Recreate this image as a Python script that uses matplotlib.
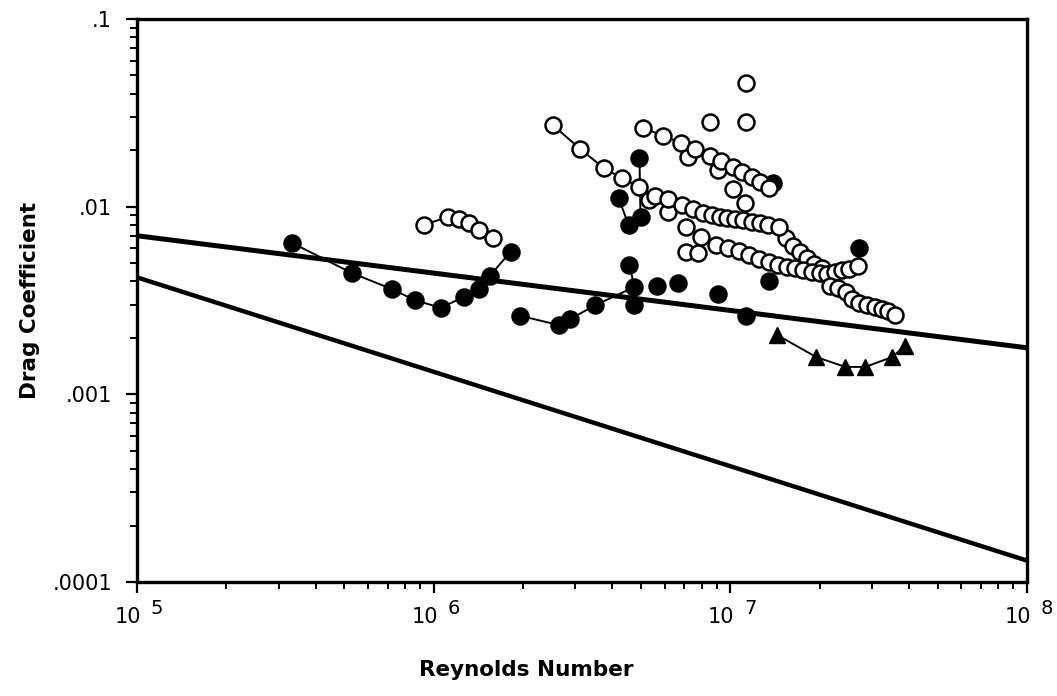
import numpy as np
import matplotlib
matplotlib.use("Agg")
import matplotlib.pyplot as plt
from matplotlib.ticker import LogLocator, NullFormatter

plt.rcParams['font.family'] = ['DejaVu Sans']

# straight reference lines (turbulent / laminar)
line_re = [1e5, 1e8]
turb_cd = [0.0070, 0.00177]
lam_cd = [0.0042, 0.00013]

# filled circles, connected runs
f1_re = [3.33e5, 5.30e5, 7.22e5, 8.63e5, 1.056e6, 1.262e6, 1.418e6, 1.544e6, 1.816e6]
f1_cd = [6.41e-3, 4.43e-3, 3.64e-3, 3.18e-3, 2.89e-3, 3.30e-3, 3.64e-3, 4.27e-3, 5.74e-3]
f2_re = [1.96e6, 2.64e6, 2.89e6, 3.51e6, 4.75e6, 4.57e6]
f2_cd = [2.62e-3, 2.34e-3, 2.52e-3, 2.99e-3, 3.73e-3, 4.89e-3]
f3_re = [4.20e6, 4.54e6, 4.98e6, 4.94e6]
f3_cd = [1.112e-2, 7.99e-3, 8.81e-3, 1.818e-2]
# filled circles, single points
fs_re = [4.75e6, 5.68e6, 6.68e6, 9.11e6, 1.132e7, 1.353e7, 1.396e7, 2.72e7]
fs_cd = [2.99e-3, 3.78e-3, 3.92e-3, 3.43e-3, 2.62e-3, 4.02e-3, 1.337e-2, 6.03e-3]

# triangles
tri_re = [1.439e7, 1.948e7, 2.44e7, 2.85e7, 3.51e7, 3.88e7]
tri_cd = [2.07e-3, 1.58e-3, 1.40e-3, 1.40e-3, 1.58e-3, 1.81e-3]

# open circles
o1_re = [9.25e5, 1.114e6, 1.214e6, 1.312e6, 1.418e6, 1.58e6]
o1_cd = [7.99e-3, 8.81e-3, 8.60e-3, 8.19e-3, 7.51e-3, 6.81e-3]
o2_re = [2.52e6, 3.12e6, 3.74e6, 4.30e6, 4.94e6, 5.59e6, 6.18e6, 6.89e6, 7.51e6, 8.11e6,
         8.70e6, 9.25e6, 9.77e6, 1.039e7, 1.106e7, 1.186e7, 1.262e7, 1.342e7, 1.462e7]
o2_cd = [2.72e-2, 2.03e-2, 1.607e-2, 1.42e-2, 1.274e-2, 1.14e-2, 1.099e-2, 1.021e-2, 9.72e-3, 9.26e-3,
         9.03e-3, 8.81e-3, 8.71e-3, 8.60e-3, 8.50e-3, 8.29e-3, 8.19e-3, 7.99e-3, 7.80e-3]
o3_re = [5.09e6, 5.95e6, 6.84e6, 7.63e6, 8.56e6, 9.33e6, 1.024e7, 1.097e7, 1.186e7, 1.262e7, 1.353e7]
o3_cd = [2.63e-2, 2.38e-2, 2.18e-2, 2.03e-2, 1.863e-2, 1.752e-2, 1.627e-2, 1.53e-2, 1.439e-2, 1.354e-2, 1.258e-2]
o4_re = [7.22e6, 9.11e6, 1.024e7, 1.123e7]
o4_cd = [1.84e-2, 1.569e-2, 1.243e-2, 1.046e-2]
o5_re = [5.30e6, 6.18e6, 7.11e6, 7.99e6, 8.97e6, 9.85e6, 1.072e7, 1.159e7, 1.252e7, 1.353e7, 1.451e7,
         1.555e7, 1.655e7, 1.762e7, 1.889e7, 2.01e7, 2.12e7, 2.26e7, 2.38e7, 2.52e7, 2.70e7]
o5_cd = [1.086e-2, 9.37e-3, 7.80e-3, 6.90e-3, 6.25e-3, 6.03e-3, 5.81e-3, 5.53e-3, 5.27e-3, 5.08e-3, 4.89e-3,
         4.77e-3, 4.71e-3, 4.60e-3, 4.49e-3, 4.43e-3, 4.38e-3, 4.49e-3, 4.60e-3, 4.66e-3, 4.83e-3]
o6_re = [2.17e7, 2.31e7, 2.46e7, 2.58e7, 2.72e7, 2.89e7, 3.08e7, 3.25e7, 3.40e7, 3.59e7]
o6_cd = [3.78e-3, 3.69e-3, 3.51e-3, 3.22e-3, 3.07e-3, 2.99e-3, 2.92e-3, 2.85e-3, 2.78e-3, 2.65e-3]
o7_re = [1.544e7, 1.63e7, 1.72e7, 1.817e7, 1.918e7, 2.04e7]
o7_cd = [6.81e-3, 6.17e-3, 5.74e-3, 5.33e-3, 4.95e-3, 4.71e-3]
os_re = [7.11e6, 7.80e6, 8.57e6, 1.132e7, 1.132e7]
os_cd = [5.74e-3, 5.67e-3, 2.83e-2, 2.83e-2, 4.56e-2]

x_ticks = [1e5, 1e6, 1e7, 1e8]
x_exp = ['5', '6', '7', '8']
y_ticks = [1e-4, 1e-3, 1e-2, 1e-1]
y_labels = ['.0001', '.001', '.01', '.1']

fig = plt.figure(figsize=(10.57, 6.96), dpi=100)
ax = fig.add_axes([137 / 1057, 1 - 582 / 696, 890 / 1057, 563 / 696])
ax.set_xscale('log')
ax.set_yscale('log')
ax.set_xlim(1e5, 1e8)
ax.set_ylim(1e-4, 1e-1)

ax.plot(line_re, turb_cd, color='black', lw=3.6, solid_capstyle='butt', zorder=2)
ax.plot(line_re, lam_cd, color='black', lw=3.2, solid_capstyle='butt', zorder=2)

ms = 11.5
mew = 1.8
filled = dict(color='black', lw=1.4, marker='o', ms=ms, mfc='black', mec='black', mew=mew, zorder=3)
ax.plot(f1_re, f1_cd, **filled)
ax.plot(f2_re, f2_cd, **filled)
ax.plot(f3_re, f3_cd, **filled)
ax.plot(fs_re, fs_cd, ls='none', marker='o', ms=ms, mfc='black', mec='black', mew=mew, zorder=3)
ax.plot(tri_re, tri_cd, color='black', lw=1.4, marker='^', ms=12, mfc='black', mec='black', mew=1, zorder=3)

opened = dict(color='black', lw=1.4, marker='o', ms=ms, mfc='white', mec='black', mew=mew, zorder=4)
single = dict(ls='none', marker='o', ms=ms, mfc='white', mec='black', mew=mew, zorder=4)
ax.plot(o7_re, o7_cd, **single)
ax.plot(o5_re, o5_cd, **single)
ax.plot(o6_re, o6_cd, **single)
ax.plot(o2_re, o2_cd, **opened)
ax.plot(o4_re, o4_cd, **single)
ax.plot(o3_re, o3_cd, **opened)
ax.plot(o1_re, o1_cd, **opened)
ax.plot(os_re, os_cd, **single)

# axes frame and ticks
for s in ax.spines.values():
    s.set_linewidth(2.4)
ax.xaxis.set_minor_locator(LogLocator(base=10, subs=np.arange(2, 10)))
ax.yaxis.set_minor_locator(LogLocator(base=10, subs=np.arange(2, 10)))
ax.xaxis.set_minor_formatter(NullFormatter())
ax.yaxis.set_minor_formatter(NullFormatter())
ax.set_yticks(y_ticks)
ax.set_yticklabels(y_labels, fontsize=15)
ax.set_xticks(x_ticks)
ax.set_xticklabels([''] * len(x_ticks))
ax.tick_params(which='major', direction='out', length=8, width=1.6, top=False, right=False)
ax.tick_params(which='minor', direction='out', length=5, width=1.4, top=False, right=False)
ax.tick_params(axis='y', pad=10)

for xv, e in zip(x_ticks, x_exp):
    ax.annotate('10', xy=(xv, 0), xycoords=('data', 'axes fraction'), xytext=(3, -18),
                textcoords='offset points', ha='right', va='top', fontsize=15)
    ax.annotate(e, xy=(xv, 0), xycoords=('data', 'axes fraction'), xytext=(10, -12),
                textcoords='offset points', ha='left', va='top', fontsize=14)

fig.text(526 / 1057, 1 - 670 / 696, 'Reynolds Number', ha='center', va='center',
         fontsize=15.5, fontweight='bold')
fig.text(30 / 1057, 1 - 300 / 696, 'Drag Coefficient', ha='center', va='center',
         rotation=90, fontsize=15.5, fontweight='bold')

fig.savefig('out.png', dpi=100)
